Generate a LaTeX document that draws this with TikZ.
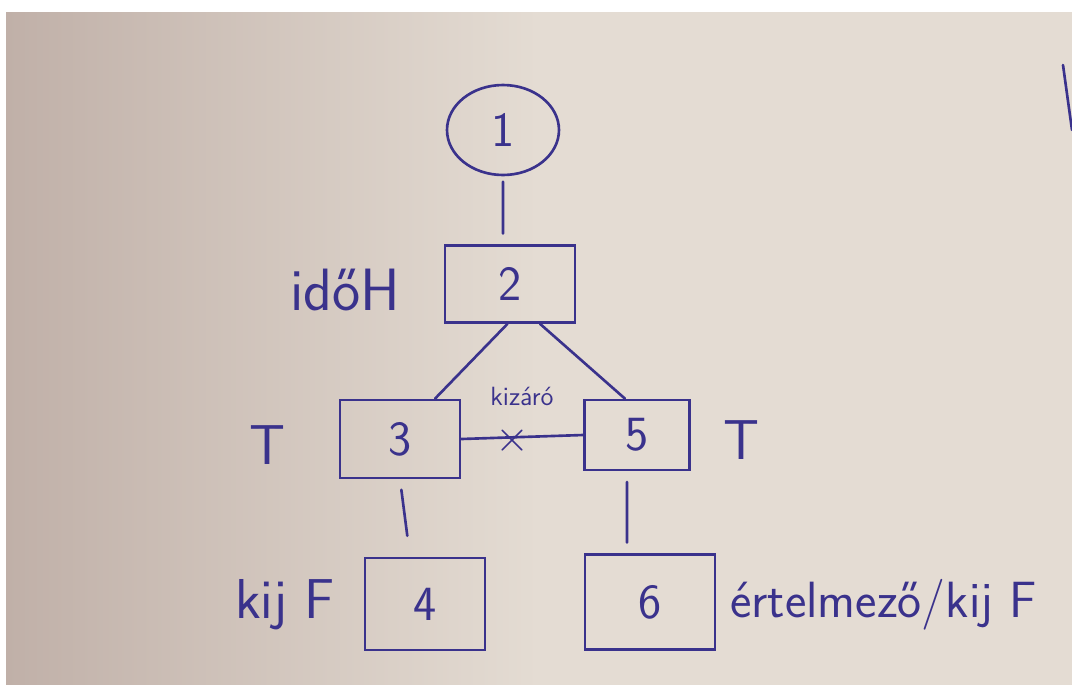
\documentclass[tikz,border=0pt]{standalone}
\usepackage{fontspec}
\usetikzlibrary{shapes.geometric}
\definecolor{ink}{RGB}{58,50,140}
\definecolor{paperleft}{RGB}{192,176,168}
\definecolor{paperright}{RGB}{228,220,211}
\tikzset{
    box/.style={draw=ink, line width=1.5pt, rectangle, inner sep=0pt},
    note/.style={text=ink, font=\sffamily\fontsize{28}{32}\selectfont},
    link/.style={draw=ink, line width=1.5pt, line cap=round}
}
\begin{document}
\begin{tikzpicture}[x=0.02cm, y=-0.02cm]
    % Paper and white frame
    \useasboundingbox (0,0) rectangle (1072,684);
    \fill[white] (0,0) rectangle (1072,684);
    \shade[left color=paperleft, right color=paperright, middle color=paperright] (6,12) rectangle (1072,684);
    \clip (6,12) rectangle (1072,684);

    % Start node
    \node (one) at (503,130) [ellipse, draw=ink, line width=1.5pt, minimum width=2.24cm, minimum height=1.8cm, note] {1};

    % Boxes
    \node (two) at (510,284) [box, minimum width=2.6cm, minimum height=1.54cm, note] {2};
    \node (three) at (400,439) [box, minimum width=2.4cm, minimum height=1.56cm, note] {3};
    \node (five) at (637,435) [box, minimum width=2.1cm, minimum height=1.4cm, note] {5};
    \node (four) at (425,604) [box, minimum width=2.4cm, minimum height=1.84cm, note] {4};
    \node (six) at (650,602) [box, minimum width=2.6cm, minimum height=1.9cm, note] {6};

    % Side labels
    \node (lbltwo) at (345,290) [note, font=\sffamily\fontsize{34}{38}\selectfont] {időH};
    \node (lblthree) at (268,445) [note, font=\sffamily\fontsize{32}{36}\selectfont] {T};
    \node (lblfive) at (742,440) [note, font=\sffamily\fontsize{32}{36}\selectfont] {T};
    \node (lblfour) at (285,605) [note, font=\sffamily\fontsize{32}{36}\selectfont] {kij F};
    \node (lblsix) at (730,605) [note, anchor=west, inner sep=0pt, font=\sffamily\fontsize{29}{33}\selectfont] {értelmező/kij F};

    % Connectors
    \draw[link, shorten <=3pt, shorten >=6pt] (one.south) -- ([xshift=-0.14cm]two.north);
    \draw[link] ([xshift=-0.05cm]two.south) -- ([xshift=0.7cm]three.north);
    \draw[link] ([xshift=0.6cm]two.south) -- ([xshift=-0.24cm]five.north);
    \draw[link] (three.east) -- (five.west);
    \draw[link, shorten <=6pt, shorten >=12pt] (three.south) -- ([xshift=-0.3cm]four.north);
    \draw[link, shorten <=6pt, shorten >=6pt] ([xshift=-0.2cm]five.south) -- ([xshift=-0.46cm]six.north);

    % Exclusion mark on the 3-5 link
    \node (cross) at (512,441) [note, inner sep=0pt] {$\times$};
    \node (excl) at (522,396) [note, inner sep=0pt, font=\sffamily\fontsize{15}{18}\selectfont] {kizáró};

    % Stray stroke at the edge
    \draw[link] (1063,65) -- (1072,130);
\end{tikzpicture}
\end{document}
